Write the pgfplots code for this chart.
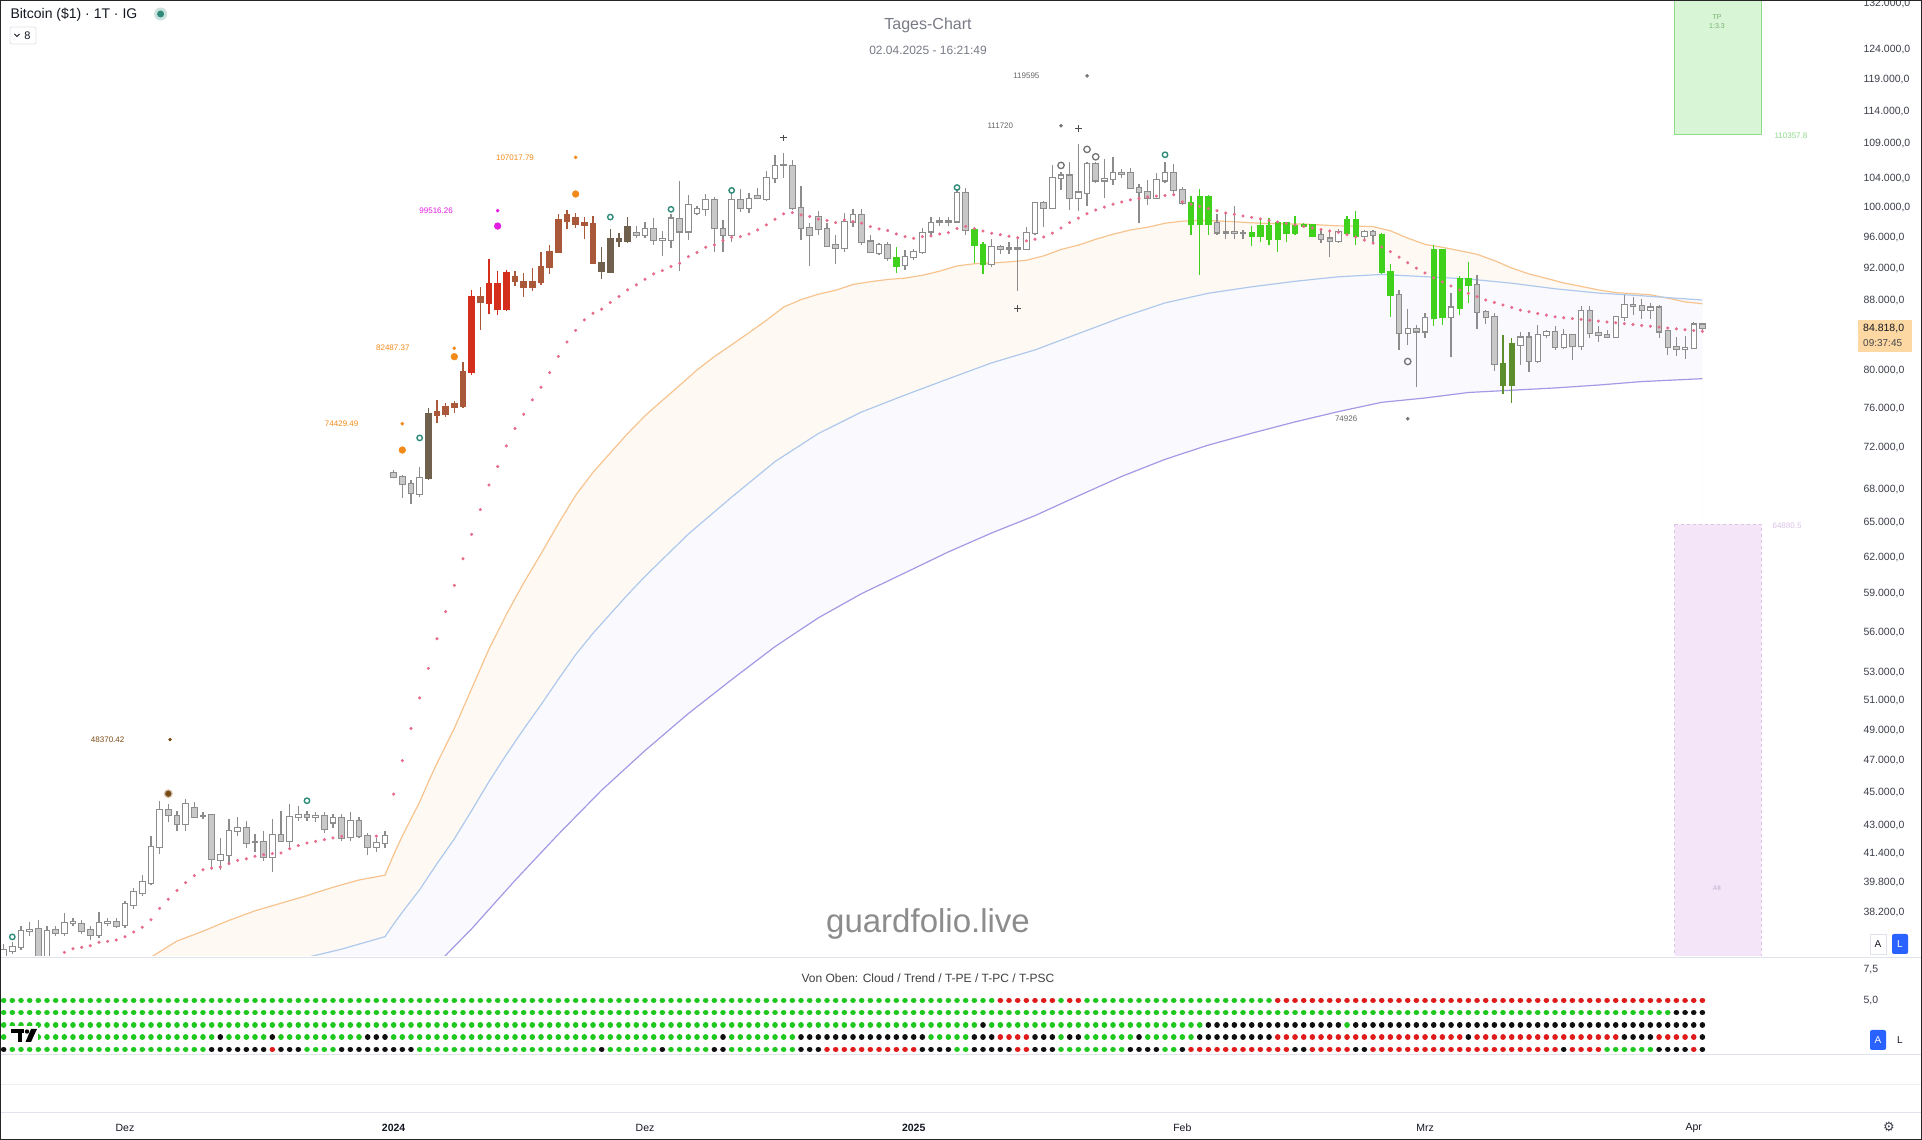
\documentclass[border=0pt]{standalone}
\usepackage{fontspec}
\setmainfont{Liberation Sans}
\newfontfamily\dejavu{DejaVu Sans}
\usepackage{pgfplots}
\usepackage{pgfplotstable}
\pgfplotsset{compat=1.18}

\definecolor{txtdark}{HTML}{131722}
\definecolor{axtxt}{HTML}{3B3F4A}
\definecolor{titlegray}{HTML}{787B86}
\definecolor{sepgray}{HTML}{E0E3EB}
\definecolor{wickgray}{HTML}{8C8C8C}
\definecolor{downfill}{HTML}{C8C8C8}
\definecolor{cOlive}{HTML}{6F614E}
\definecolor{cBrown}{HTML}{A9583A}
\definecolor{cRed}{HTML}{D32F1C}
\definecolor{cGreen}{HTML}{3FD11C}
\definecolor{cDkGreen}{HTML}{5C8E2E}
\definecolor{sarred}{HTML}{E66A8A}
\definecolor{emaO}{HTML}{F7C48F}
\definecolor{emaB}{HTML}{AFC9EC}
\definecolor{emaP}{HTML}{A39AE6}
\definecolor{cloudA}{HTML}{FFF9F3}
\definecolor{cloudB}{HTML}{F9F9FE}
\definecolor{ringteal}{HTML}{2E8B7A}
\definecolor{dotGreen}{HTML}{1EC81E}
\definecolor{dotRed}{HTML}{E01B1B}
\definecolor{dotBlack}{HTML}{101010}
\definecolor{annOrange}{HTML}{F28A1A}
\definecolor{annBrown}{HTML}{7A4A14}
\definecolor{annMag}{HTML}{E31CE3}
\definecolor{tpfill}{HTML}{D8F6D5}
\definecolor{tpline}{HTML}{8FDB8A}
\definecolor{altfill}{HTML}{F4E6F8}
\definecolor{altline}{HTML}{DCC3E6}
\definecolor{tvblue}{HTML}{2962FF}
\definecolor{pricebox}{HTML}{FDD8A2}

% daily candles: bar index (0 = 1 Dec 2023), open high low close, colour class, trailing dot
% k: 0 up white, 1 down grey, 2 olive, 3 brown, 4 red, 5 green, 6 dark green
\pgfplotstableread{
i o h l c k s
-14 36000 36600 35800 36300 0 nan
-13 36250 36700 36100 36450 0 nan
-12 36450 37500 36300 37250 0 nan
-11 37250 37700 37000 37300 0 nan
-10 37350 37800 35900 36000 1 nan
-9 36000 37500 35900 37250 0 nan
-8 37300 37500 37000 37150 1 36000
-7 37150 38180 37000 37660 0 36190
-6 37660 37900 37500 37700 0 36370
-5 37620 37800 37100 37250 1 36440
-4 37300 37500 36800 37050 1 36520
-3 37050 38250 36900 37660 0 36690
-2 37660 37900 37500 37700 0 36740
-1 37700 37900 37400 37500 1 36800
0 37560 38800 37400 38650 0 36970
1 38600 39500 38400 39300 0 37210
2 39250 40200 39100 39840 0 37450
3 39800 42400 39700 41790 0 37830
4 41790 44500 41400 43940 0 38430
5 43940 44300 43200 43640 1 38910
6 43580 43900 42700 43110 1 39370
7 43110 44600 42700 44300 0 39800
8 44060 44400 43500 43520 1 40180
9 43600 43800 43400 43600 0 40500
10 43640 43700 40500 41110 1 40590
11 41030 42300 40500 41320 0 40650
12 41320 43400 40800 42710 0 40830
13 42710 43500 42400 42870 0 41020
14 42870 43300 41700 42000 1 41110
15 42070 42500 41500 42070 0 41250
16 42070 42700 41000 41220 1 41340
17 41220 43400 40390 42470 0 41400
18 42470 43900 42100 42120 1 41440
19 42120 44300 41800 43520 0 41680
20 43520 44200 43300 43640 0 41860
21 43640 43900 43300 43500 1 42010
22 43500 43800 43200 43560 0 42100
23 43560 43800 42600 42800 1 42200
24 43200 43700 42900 43460 0 42300
25 43440 43700 42100 42300 1 42390
26 42330 43800 42100 43290 0 nan
27 43290 43500 42300 42400 1 nan
28 42420 42600 41300 41770 1 nan
29 41800 42300 41500 42000 0 42400
30 42000 42700 41700 42400 0 nan
31 69600 69900 69100 69230 1 44900
32 69180 69400 67290 68520 1 47000
33 68520 68900 66660 67690 1 49100
34 67630 70200 67300 69150 0 51200
35 69150 76040 68900 75400 2 53300
36 75320 76900 74500 75650 3 55500
37 75480 76600 75100 76130 3 57600
38 76130 76800 75500 76400 3 59700
39 76280 80950 76000 79880 3 61900
40 79880 89340 79600 88460 4 64000
41 88460 89700 84600 87880 3 66200
42 87800 93200 86400 90060 4 68460
43 90060 91600 86300 87000 4 70200
44 87000 91800 86800 91400 4 72200
45 90900 91700 89800 90400 3 73940
46 90240 91400 88500 89670 3 75400
47 89670 92000 89200 90240 3 76890
48 90240 94000 89900 92200 3 78230
49 92200 94900 91300 94100 3 79810
50 94100 99000 93900 98180 3 81570
51 98200 99600 97000 98960 3 83190
52 98500 99200 97200 97700 3 84520
53 97800 98600 95800 97600 3 85740
54 97700 98800 92500 92700 3 86530
55 92700 94700 90600 91700 2 87000
56 91600 97000 91500 95700 2 87800
57 95700 96500 94700 95500 2 88520
58 95500 98600 95200 97300 2 89330
59 96500 97500 95900 96300 1 89940
60 96280 98000 95900 97030 0 90620
61 97030 98500 95000 95630 1 91290
62 95630 96800 93500 95700 0 91700
63 95630 99000 94600 98450 0 92210
64 98370 103600 91600 96730 1 92630
65 96730 101600 95600 100300 0 93470
66 99190 100200 98900 99720 0 93980
67 99720 101800 98800 101000 0 94670
68 101000 101400 94100 97170 1 94970
69 97030 98200 94100 96280 1 95530
70 96280 101900 95300 101000 0 95960
71 101000 102500 99300 99860 1 96050
72 99860 101900 99200 101100 0 96400
73 101500 102600 101200 101200 1 96930
74 101100 105100 100900 104000 0 97600
75 104100 107400 103300 105790 0 98360
76 105930 107600 104000 105930 0 99080
77 105790 106700 99600 99860 1 99250
78 99860 102900 95600 97170 1 98940
79 97170 97900 92300 96280 1 98720
80 98700 99500 96300 97030 1 98360
81 97030 97800 94800 94840 1 98180
82 94970 96300 92500 94550 1 97910
83 94550 99200 94000 97970 0 98270
84 97970 99800 97300 98960 0 98050
85 98960 99800 94900 95410 1 97830
86 95410 96300 93900 94100 1 97380
87 93980 95200 93700 94970 0 97070
88 94970 95400 92900 93260 1 96850
89 93260 94700 91400 92330 5 96400
90 92430 94300 91800 93470 0 96050
91 93470 94400 93000 94100 0 95830
92 94100 97200 93800 96480 0 96050
93 96730 98600 96200 97830 0 96130
94 98060 98600 97500 98060 1 96400
95 98060 98600 97500 98060 0 96580
96 98060 102500 97800 101960 0 97110
97 101960 102700 96300 96900 1 97400
98 96900 97300 92600 95000 5 97100
99 95000 95300 91300 92500 5 96800
100 92500 95800 92200 94700 0 96500
101 94700 95000 93800 94500 1 96300
102 94500 95300 93800 94500 0 96100
103 94500 95800 89200 94500 0 95900
104 94500 97300 94300 96500 0 95500
105 96500 100700 96300 100500 0 95700
106 100500 100800 97300 99900 1 96000
107 99900 105900 99900 104100 0 96500
108 104100 104900 102300 104400 0 97200
109 104400 106300 99600 101200 1 97900
110 101200 109000 99500 102000 0 98500
111 102000 106400 100100 106100 0 99100
112 106100 106400 103300 103700 1 99600
113 103700 106800 101300 103900 0 100000
114 103900 107000 103000 104800 0 100400
115 104800 105300 104100 104700 1 100700
116 104700 105500 102500 102600 1 101000
117 102600 103200 97800 102100 1 101200
118 102100 103800 100300 101300 1 101400
119 101300 104800 101300 103700 0 101500
120 103700 106400 103300 104700 0 101600
121 104700 106000 101600 102400 1 101700
122 102400 102800 100300 100600 1 100700
123 100600 101500 96300 97700 5 100400
124 97700 102500 91200 101400 5 100100
125 101400 101700 96200 97800 5 99800
126 97800 99000 96200 96600 1 99500
127 96600 99000 95700 96600 1 99200
128 96600 100100 95700 96500 1 99000
129 96500 96900 95700 96500 0 98800
130 96500 97400 94800 96100 5 98600
131 96100 98300 95300 97400 5 98400
132 97400 98500 94900 95700 5 98200
133 95700 98100 94100 97800 5 98000
134 97800 97800 95300 96600 5 97800
135 96600 98800 96300 97500 5 97600
136 97500 97900 97200 97600 5 97400
137 97600 97700 96000 96200 5 97200
138 96200 97000 95200 95800 1 97000
139 95800 96700 93400 95500 1 96800
140 95500 97000 95200 96600 0 96600
141 96600 98800 96400 98300 5 96300
142 98300 99500 94900 96100 5 96000
143 96100 96900 95800 96600 0 95600
144 96600 96900 95300 96300 1 95200
145 96300 96500 91300 91500 5 94700
146 91500 92500 86100 88700 5 94100
147 88700 89300 82300 84200 1 93400
148 84200 87000 82800 84700 0 92700
149 84700 85100 78300 84400 1 92000
150 84400 86500 83700 86000 0 91400
151 86000 95000 85000 94300 5 90800
152 94300 94400 85100 86100 5 90300
153 86100 88900 81500 87200 0 89800
154 87200 91000 86300 90600 5 89300
155 90600 92800 87800 89900 5 88900
156 89900 91200 84700 86700 1 88500
157 86700 86900 85300 86100 1 88100
158 86100 86500 80000 80700 1 87800
159 80700 84000 77500 78500 6 87500
160 78500 83600 76600 82900 6 87200
161 82900 84300 80600 83700 0 86900
162 83700 84300 79900 81100 1 86700
163 81100 85200 80800 84000 0 86500
164 84000 84600 83600 84300 0 86300
165 84300 85000 82300 82600 1 86100
166 82600 84700 82400 84000 0 86000
167 84000 84000 81200 82700 1 85900
168 82700 87400 82300 86800 0 85800
169 86800 87400 83700 84200 1 85700
170 84200 85000 83200 84000 1 85600
171 84000 84600 83600 83800 1 85500
172 83800 86200 83800 86100 0 85400
173 86100 88700 85600 87500 0 85300
174 87500 88500 86300 87400 1 85200
175 87400 88200 85900 86900 1 85100
176 86900 87800 85900 87200 0 85000
177 87200 87500 83700 84400 1 84900
178 84400 84500 81700 82600 1 84800
179 82600 83800 81600 82400 1 84700
180 82400 83900 81300 82500 0 84600
181 82500 85500 82400 85200 0 84500
182 85200 85400 84300 84818 1 84400
}\candles

% moving averages (orange, light blue, purple)
\pgfplotstableread{
i v
-14 34300
-7 34900
0 35500
3 35950
6 36750
9 37250
12 37800
15 38300
18 38700
21 39100
24 39550
27 39950
30 40200
31 41341
32 42413
33 43408
34 44427
35 45649
36 46835
38 49123
40 51852
42 54725
44 57374
46 59896
48 62319
50 64938
52 67501
54 69650
56 71517
58 73439
60 75235
62 76823
64 78434
66 80081
68 81552
70 82885
72 84255
74 85690
76 87255
78 88144
80 88799
82 89276
84 89986
86 90324
88 90598
90 90768
92 91111
94 91637
96 92283
98 92564
100 92657
102 92798
104 93008
106 93560
108 94382
110 94937
112 95701
114 96366
116 96925
118 97291
120 97823
122 98104
124 98218
126 98139
128 98017
130 97885
132 97781
134 97735
136 97721
138 97588
140 97471
142 97449
144 97372
146 96811
148 95862
150 95044
152 94665
154 94224
156 93767
158 92966
160 92027
162 91285
164 90737
166 90166
168 89753
170 89318
172 88984
174 88866
176 88727
178 88324
180 87872
182 87651
}\emaA
\pgfplotstableread{
i v
-14 32500
0 33900
10 35000
21.6 36000
25 36350
30 36970
31 37610
32 38226
34 39418
36 40842
38 42244
40 43905
42 45681
44 47386
46 49065
48 50725
50 52515
52 54310
54 55924
56 57414
58 58947
60 60427
65 64023
70 67329
75 70677
80 73434
85 75630
90 77398
95 79121
100 80861
105 82302
110 84150
115 86040
120 87749
125 88915
130 89698
135 90374
140 90931
145 91223
150 90944
155 90664
160 90138
165 89459
170 88935
175 88608
182 88095
}\emaB
\pgfplotstableread{
i v
-14 30000
0 31100
15 32300
30 33400
35 35186
40 37373
45 39917
50 42508
55 45143
60 47649
65 50116
70 52492
75 54908
80 57109
85 59031
90 60728
95 62483
100 64119
105 65650
110 67448
115 69256
120 70893
125 72289
130 73470
135 74609
140 75663
145 76631
150 77088
155 77669
160 77905
165 78154
170 78464
175 78832
182 79148
}\emaC

\newcommand{\fs}[1]{\fontsize{#1}{#1}\selectfont}

% one colour class of candles: #1 class, #2 body fill, #3 edge and wick, #4 inner width
\newcommand{\candleset}[4]{%
  \addplot[draw=none, mark=none, forget plot,
    x filter/.expression={\thisrow{k}==#1 ? x : nan},
    error bars/.cd, y dir=plus, y explicit, error mark=none,
    error bar style={draw=#3, line width=1.1pt}]
    table[x=i, y=l, y error plus expr={\thisrow{h}-\thisrow{l}}] {\candles};
  \addplot[draw=none, mark=none, forget plot,
    x filter/.expression={\thisrow{k}==#1 ? x : nan},
    error bars/.cd, y dir=plus, y explicit, error mark=none,
    error bar style={draw=#3, line width=6.4pt}]
    table[x=i, y expr={min(\thisrow{o},\thisrow{c})*0.9985},
      y error plus expr={max(\thisrow{o},\thisrow{c})*1.0015-min(\thisrow{o},\thisrow{c})*0.9985}] {\candles};
  \addplot[draw=none, mark=none, forget plot,
    x filter/.expression={\thisrow{k}==#1 ? x : nan},
    error bars/.cd, y dir=plus, y explicit, error mark=none,
    error bar style={draw=#2, line width=#4}]
    table[x=i, y expr={min(\thisrow{o},\thisrow{c})},
      y error plus expr={max(\thisrow{o},\thisrow{c})-min(\thisrow{o},\thisrow{c})}] {\candles};
}

\begin{document}
\begin{tikzpicture}[x=1pt,y=1pt]
\useasboundingbox (0,0) rectangle (1922,1140);
\fill[white] (0,0) rectangle (1922,1140);
\begin{scope}
\clip (0,0) rectangle (1922,1140);

% ---------------- price panel ----------------
\begin{axis}[
  at={(0pt,184pt)}, anchor=south west,
  scale only axis, x=8.667pt, height=956pt,
  xmin=-14.42, xmax=199.15,
  ymode=log, ymin=36012, ymax=132660,
  axis line style={draw=none}, major tick length=0pt,
  xtick=\empty,
  ytick={38200,39800,41400,43000,45000,47000,49000,51000,53000,56000,59000,62000,65000,68000,72000,76000,80000,88000,92000,96000,100000,104000,109000,114000,119000,124000,132000},
  yticklabels={{38.200,0},{39.800,0},{41.400,0},{43.000,0},{45.000,0},{47.000,0},{49.000,0},{51.000,0},{53.000,0},{56.000,0},{59.000,0},{62.000,0},{65.000,0},{68.000,0},{72.000,0},{76.000,0},{80.000,0},{88.000,0},{92.000,0},{96.000,0},{100.000,0},{104.000,0},{109.000,0},{114.000,0},{119.000,0},{124.000,0},{132.000,0}},
  yticklabel pos=right,
  yticklabel style={anchor=west, xshift=9pt, font=\fs{10.5}, text=axtxt},
]
% cloud: each average filled down to the bottom, slowest last
\addplot[fill=cloudA, draw=none, forget plot] table[x=i, y=v] {\emaA} \closedcycle;
\addplot[fill=cloudB, draw=none, forget plot] table[x=i, y=v] {\emaB} \closedcycle;
\addplot[fill=white, draw=none, forget plot] table[x=i, y=v] {\emaC} \closedcycle;

% target / stop boxes
\addplot[fill=tpfill, draw=tpline, line width=0.9pt, forget plot]
  coordinates {(178.8,110357.8)(188.8,110357.8)(188.8,140000)(178.8,140000)(178.8,110357.8)};
\addplot[fill=altfill, draw=altline, line width=0.9pt, dashed, forget plot]
  coordinates {(178.8,64880.5)(188.8,64880.5)(188.8,30000)(178.8,30000)(178.8,64880.5)};

\addplot[draw=emaO, line width=1.2pt, forget plot] table[x=i, y=v] {\emaA};
\addplot[draw=emaB, line width=1.2pt, forget plot] table[x=i, y=v] {\emaB};
\addplot[draw=emaP, line width=1.2pt, forget plot] table[x=i, y=v] {\emaC};

% trailing dots
\addplot[only marks, mark=*, mark size=1.35pt, color=sarred, forget plot]
  table[x=i, y=s] {\candles};

% candles
\candleset{0}{white}{wickgray}{4.4pt}
\candleset{1}{downfill}{wickgray}{4.4pt}
\candleset{2}{cOlive}{cOlive}{6.4pt}
\candleset{3}{cBrown}{cBrown}{6.4pt}
\candleset{4}{cRed}{cRed}{6.4pt}
\candleset{5}{cGreen}{cGreen}{6.4pt}
\candleset{6}{cDkGreen}{cDkGreen}{6.4pt}

% signal markers
\addplot[only marks, mark=o, mark size=2.7pt, draw=ringteal, line width=1.4pt, forget plot]
  coordinates {(-13,36960)(21,44500)(34,73000)(56,98650)(63,99700)(70,102300)(96,102700)(120,107400)};
\addplot[only marks, mark=o, mark size=3.2pt, draw=black!55, line width=1.3pt, forget plot]
  coordinates {(108,105850)(111,108190)(112,107100)(148,81010)};
\addplot[only marks, mark=+, mark size=3.2pt, draw=black!70, line width=0.8pt, forget plot]
  coordinates {(76,109900)(103,87100)(110,111300)};
\addplot[only marks, mark=*, mark size=1.6pt, color=black!55, forget plot]
  coordinates {(108,111720)(111,119595)(148,74926)};
\addplot[only marks, mark=*, mark size=4.2pt, color=annBrown!35, forget plot] coordinates {(5,44930)};
\addplot[only marks, mark=*, mark size=2.8pt, color=annBrown, forget plot] coordinates {(5,44930)};
\addplot[only marks, mark=*, mark size=1.5pt, color=annBrown, forget plot] coordinates {(5.2,48370)};
\addplot[only marks, mark=*, mark size=3.4pt, color=annOrange, forget plot]
  coordinates {(32,71800)(38,81540)(52,101800)};
\addplot[only marks, mark=*, mark size=1.6pt, color=annOrange, forget plot]
  coordinates {(32,74429.49)(38,82487.37)(52,107017.79)};
\addplot[only marks, mark=*, mark size=3.4pt, color=annMag, forget plot] coordinates {(43,97450)};
\addplot[only marks, mark=*, mark size=1.6pt, color=annMag, forget plot] coordinates {(43,99516.26)};

\node[font=\fs{8}, text=annBrown] at (axis cs:-2.0,48370) {48370.42};
\node[font=\fs{8}, text=annOrange] at (axis cs:25.0,74429) {74429.49};
\node[font=\fs{8}, text=annOrange] at (axis cs:30.9,82487) {82487.37};
\node[font=\fs{8}, text=annMag] at (axis cs:35.9,99516) {99516.26};
\node[font=\fs{8}, text=annOrange] at (axis cs:45.0,107018) {107017.79};
\node[font=\fs{8}, text=black!60] at (axis cs:104.0,119595) {119595};
\node[font=\fs{8}, text=black!60] at (axis cs:101.0,111720) {111720};
\node[font=\fs{8}, text=black!60] at (axis cs:140.9,74926) {74926};
\end{axis}

% ---------------- indicator panel ----------------
\begin{axis}[
  at={(0pt,83.5pt)}, anchor=south west,
  scale only axis, x=8.667pt, height=96pt,
  xmin=-14.42, xmax=199.15, ymin=0.42, ymax=8.25,
  axis line style={draw=none}, major tick length=0pt,
  xtick=\empty, ytick={5,7.5}, yticklabels={{5,0},{7,5}},
  yticklabel pos=right,
  yticklabel style={anchor=west, xshift=9pt, font=\fs{10.5}, text=axtxt},
  unbounded coords=jump,
  every axis plot/.append style={line width=5.6pt, line cap=round, dash pattern=on 0.01pt off 8.657pt, forget plot},
]
% row 1 Cloud
\addplot[dotGreen] coordinates {(-14,5)(100.25,5) (0,nan) (108,5)(108.25,5) (0,nan) (111,5)(132.25,5)};
\addplot[dotRed] coordinates {(101,5)(107.25,5) (0,nan) (109,5)(110.25,5) (0,nan) (133,5)(182.25,5)};
% row 2 Trend
\addplot[dotGreen] coordinates {(-14,4)(178.25,4)};
\addplot[dotBlack] coordinates {(179,4)(182.25,4)};
% row 3 T-PE
\addplot[dotGreen] coordinates {(-14,3)(98.25,3) (0,nan) (100,3)(124.25,3) (0,nan) (141,3)(141.25,3)};
\addplot[dotBlack] coordinates {(99,3)(99.25,3) (0,nan) (125,3)(140.25,3) (0,nan) (142,3)(182.25,3)};
% row 4 T-PC
\addplot[dotGreen] coordinates {(-14,2)(10.25,2) (0,nan) (12,2)(16.25,2) (0,nan) (18,2)(27.25,2) (0,nan) (31,2)(68.25,2) (0,nan) (70,2)(77.25,2) (0,nan) (93,2)(97.25,2) (0,nan) (108,2)(108.25,2) (0,nan) (111,2)(116.25,2) (0,nan) (118,2)(123.25,2)};
\addplot[dotBlack] coordinates {(11,2)(11.25,2) (0,nan) (17,2)(17.25,2) (0,nan) (28,2)(30.25,2) (0,nan) (69,2)(69.25,2) (0,nan) (78,2)(92.25,2) (0,nan) (98,2)(100.25,2) (0,nan) (105,2)(107.25,2) (0,nan) (109,2)(110.25,2) (0,nan) (117,2)(117.25,2) (0,nan) (124,2)(132.25,2) (0,nan) (155,2)(155.25,2) (0,nan) (173,2)(176.25,2) (0,nan) (182,2)(182.25,2)};
\addplot[dotRed] coordinates {(101,2)(104.25,2) (0,nan) (133,2)(154.25,2) (0,nan) (156,2)(172.25,2) (0,nan) (177,2)(181.25,2)};
% row 5 T-PSC
\addplot[dotGreen] coordinates {(-13,1)(9.25,1) (0,nan) (21,1)(24.25,1) (0,nan) (34,1)(54.25,1) (0,nan) (56,1)(61.25,1) (0,nan) (63,1)(67.25,1) (0,nan) (70,1)(77.25,1) (0,nan) (96,1)(97.25,1) (0,nan) (108,1)(115.25,1) (0,nan) (120,1)(121.25,1) (0,nan) (171,1)(176.25,1)};
\addplot[dotBlack] coordinates {(-14,1)(-13.75,1) (0,nan) (10,1)(16.25,1) (0,nan) (18,1)(20.25,1) (0,nan) (25,1)(33.25,1) (0,nan) (55,1)(55.25,1) (0,nan) (62,1)(62.25,1) (0,nan) (68,1)(69.25,1) (0,nan) (78,1)(80.25,1) (0,nan) (92,1)(95.25,1) (0,nan) (98,1)(102.25,1) (0,nan) (105,1)(107.25,1) (0,nan) (116,1)(119.25,1) (0,nan) (122,1)(122.25,1) (0,nan) (135,1)(136.25,1) (0,nan) (142,1)(143.25,1) (0,nan) (166,1)(166.25,1) (0,nan) (177,1)(180.25,1) (0,nan) (182,1)(182.25,1)};
\addplot[dotRed] coordinates {(17,1)(17.25,1) (0,nan) (81,1)(91.25,1) (0,nan) (103,1)(104.25,1) (0,nan) (123,1)(134.25,1) (0,nan) (137,1)(141.25,1) (0,nan) (144,1)(165.25,1) (0,nan) (167,1)(170.25,1) (0,nan) (181,1)(181.25,1)};
\end{axis}

% ---------------- time axis ----------------
\begin{axis}[
  at={(0pt,0pt)}, anchor=south west,
  scale only axis, x=8.667pt, height=27pt,
  xmin=-14.42, xmax=199.15, ymin=0, ymax=1,
  axis line style={draw=none}, major tick length=0pt,
  ytick=\empty,
  xtick={0,31,60,91,122,150,181},
  xticklabels={Dez,\textbf{2024},Dez,\textbf{2025},Feb,Mrz,Apr},
  xticklabel style={anchor=center, yshift=12pt, font=\fs{10.5}, text=txtdark},
]
\addplot[draw=none, forget plot] coordinates {(0,0.5)(181,0.5)};
\end{axis}

% separators
\draw[sepgray, line width=1pt] (0,182.5) -- (1922,182.5);
\draw[sepgray, line width=1pt] (0,85) -- (1922,85);
\draw[sepgray!60, line width=1pt] (0,55) -- (1922,55);
\draw[sepgray, line width=1pt] (0,27) -- (1922,27);

% header
\node[anchor=west, font=\fs{14}, text=txtdark] at (7,1125) {Bitcoin (\$1) · 1T · IG};
\fill[ringteal!25] (160.6,1126) circle (6.5);
\fill[ringteal] (160.6,1126) circle (3.5);
\draw[sepgray, line width=0.9pt, rounded corners=2pt] (10,1096) rectangle (36,1113);
\draw[txtdark, line width=0.9pt] (14.5,1106) -- (17,1103.5) -- (19.5,1106);
\node[font=\fs{11}, text=txtdark] at (27.5,1104.5) {8};
\node[font=\fs{16}, text=titlegray] at (928,1114.3) {Tages-Chart};
\node[font=\fs{12}, text=titlegray] at (928,1090) {02.04.2025 - 16:21:49};

% box labels
\node[font=\fs{7}, text=tpline!80!black] at (1717,1123) {TP};
\node[font=\fs{7}, text=tpline!80!black] at (1717,1114) {1:3.3};
\node[anchor=west, font=\fs{8}, text=tpline] at (1771,1004) {110357.8};
\node[anchor=west, font=\fs{8}, text=altline] at (1769,614) {64880.5};
\node[font=\fs{7}, text=altline!90!black] at (1717,252.5) {Alt};

% watermark
\node[font=\fs{33}, text=black!45] at (928,216) {guardfolio.live};

% lower panel title
\node[font=\fs{12}, text=black!75] at (928,161.5) {Von Oben: Cloud / Trend / T-PE / T-PC / T-PSC};

% last price label
\fill[pricebox] (1858,788) rectangle (1912,820);
\node[anchor=west, font=\fs{10.5}, text=txtdark, inner sep=0pt] at (1863,811) {84.818,0};
\node[anchor=west, font=\fs{10}, text=txtdark!80, inner sep=0pt] at (1863,797) {09:37:45};

% scale buttons
\draw[sepgray, fill=white] (1870,186) rectangle (1886,206);
\node[font=\fs{10}, text=txtdark] at (1878,196) {A};
\fill[tvblue, rounded corners=2pt] (1892,186) rectangle (1908,206);
\node[font=\fs{10}, text=white] at (1900,196) {L};
\fill[tvblue, rounded corners=2pt] (1870,90) rectangle (1886,110);
\node[font=\fs{10}, text=white] at (1878,100) {A};
\node[font=\fs{10}, text=txtdark] at (1900,100) {L};

% logo
\fill[white] (9,95) rectangle (38,114);
\fill[black] (11,111) rectangle (24,106.5);
\fill[black] (17.5,106.5) rectangle (21.5,98);
\fill[black] (27,108.5) circle (2.2);
\fill[black] (31,111) -- (37,111) -- (31,98) -- (25.5,98) -- cycle;

% gear
\node[font=\dejavu\fs{13}, text=axtxt] at (1889,13) {⚙};
\end{scope}
\draw[black!85, line width=2.4pt] (0,0) rectangle (1922,1140);
\end{tikzpicture}
\end{document}
